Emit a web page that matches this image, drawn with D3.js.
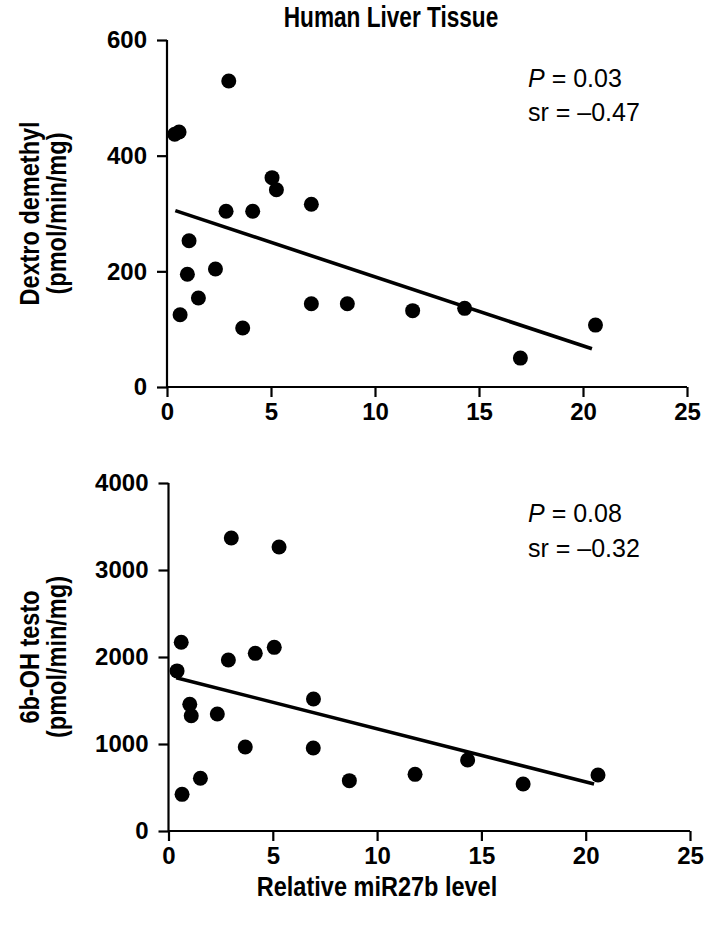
<!DOCTYPE html>
<html>
<head>
<meta charset="utf-8">
<script src="https://cdn.jsdelivr.net/npm/d3@7"></script>
<style>
  html, body { margin: 0; padding: 0; background: #fff; }
  svg text { font-family: "Liberation Sans", Arial, Helvetica, sans-serif; fill: #000; }
</style>
</head>
<body>
<svg id="chart" width="709" height="926"></svg>
<script>
// ---- Data ----
const chartTitle = "Human Liver Tissue";
const xAxisTitle = "Relative miR27b level";
const xTicks = [0, 5, 10, 15, 20, 25];

// Panel A: Dextro demethyl
const dextroX = [2.97, 0.37, 0.58, 5.05, 5.26, 2.84, 4.12, 6.94, 1.06, 0.98, 2.33, 1.51, 0.63, 3.64, 6.94, 8.67, 11.81, 14.31, 16.99, 20.6];
const dextroY = [529, 437, 441, 362, 341, 304, 304, 316, 253, 195, 204, 154, 125, 102, 144, 144, 132, 136, 50, 107];
const dextroFitX = [0.4, 20.43];
const dextroFitY = [305, 66];
const dextroYTicks = [0, 200, 400, 600];
const dextroYTitle = ["Dextro demethyl", "(pmol/min/mg)"];
const dextroStats = ["0.03", "–0.47"];

// Panel B: 6b-OH testo
const testoX = [3.01, 5.3, 0.61, 2.87, 4.16, 5.07, 0.41, 1.02, 1.09, 2.34, 6.95, 3.68, 6.94, 1.53, 0.65, 8.67, 11.82, 14.34, 17.0, 20.59];
const testoY = [3368, 3264, 2169, 1966, 2042, 2111, 1840, 1456, 1325, 1345, 1517, 966, 954, 606, 421, 579, 651, 816, 540, 644];
const testoFitX = [0.37, 20.4];
const testoFitY = [1762, 540];
const testoYTicks = [0, 1000, 2000, 3000, 4000];
const testoYTitle = ["6b-OH testo", "(pmol/min/mg)"];
const testoStats = ["0.08", "–0.32"];

// ---- Drawing ----
const svg = d3.select("#chart");

function condText(sel, x, y, rot, size, cond, anchor, txt) {
  return sel.append("text")
    .attr("transform", `translate(${x},${y})` + (rot ? ` rotate(${rot})` : "") + ` scale(${cond},1)`)
    .attr("text-anchor", anchor)
    .style("font-size", size + "px").style("font-weight", "bold")
    .text(txt);
}

condText(svg, 391, 27, 0, 29, 0.78, "middle", chartTitle);

function panel(cfg) {
  const x = d3.scaleLinear().domain([0, 25]).range([cfg.left, cfg.right]);
  const y = d3.scaleLinear().domain([0, d3.max(cfg.yTicks)]).range([cfg.bottom, cfg.top]);
  const g = svg.append("g");

  const xa = g.append("g").attr("transform", `translate(0,${cfg.bottom})`)
    .call(d3.axisBottom(x).tickValues(xTicks).tickSize(10).tickPadding(6).tickFormat(d3.format("d")));
  const ya = g.append("g").attr("transform", `translate(${cfg.left},0)`)
    .call(d3.axisLeft(y).tickValues(cfg.yTicks).tickSize(10).tickPadding(10).tickFormat(d3.format("d")));
  [xa, ya].forEach(a => {
    a.select(".domain").attr("stroke", "#000").attr("stroke-width", 2.2);
    a.selectAll(".tick line").attr("stroke", "#000").attr("stroke-width", 2.2);
    a.selectAll(".tick text").style("font-size", "24px").style("font-weight", "bold")
      .style("font-family", '"Liberation Sans", Arial, sans-serif').attr("fill", "#000");
  });
  xa.select(".domain").attr("d", `M${cfg.left},0H${cfg.right}`);
  ya.select(".domain").attr("d", `M0,${cfg.bottom}V${cfg.top}`);

  // regression line
  g.append("line")
    .attr("x1", x(cfg.fitX[0])).attr("y1", y(cfg.fitY[0]))
    .attr("x2", x(cfg.fitX[1])).attr("y2", y(cfg.fitY[1]))
    .attr("stroke", "#000").attr("stroke-width", 3.6);

  // points
  g.selectAll("circle.pt").data(cfg.xs.map((v, i) => [v, cfg.ys[i]]))
    .enter().append("circle").attr("class", "pt")
    .attr("cx", d => x(d[0])).attr("cy", d => y(d[1]))
    .attr("r", 7.5).attr("fill", "#000");

  // y title (two lines, rotated)
  const cy = (cfg.top + cfg.bottom) / 2;
  cfg.yTitle.forEach((t, i) => {
    condText(g, cfg.yTitleX[i], cy, -90, 28, 0.84, "middle", t);
  });

  // stats
  const p = g.append("text").attr("x", cfg.statX).attr("y", cfg.statY[0])
    .style("font-size", "25px");
  p.append("tspan").style("font-style", "italic").text("P");
  p.append("tspan").text(" = " + cfg.stats[0]);
  g.append("text").attr("x", cfg.statX).attr("y", cfg.statY[1])
    .style("font-size", "25px")
    .text("sr = " + cfg.stats[1]);
}

panel({
  left: 167, right: 687, top: 40, bottom: 387,
  xs: dextroX, ys: dextroY, fitX: dextroFitX, fitY: dextroFitY,
  yTicks: dextroYTicks, yTitle: dextroYTitle, yTitleX: [39, 66],
  stats: dextroStats, statX: 528, statY: [87, 121]
});

panel({
  left: 168.5, right: 690, top: 483, bottom: 831,
  xs: testoX, ys: testoY, fitX: testoFitX, fitY: testoFitY,
  yTicks: testoYTicks, yTitle: testoYTitle, yTitleX: [39, 66],
  stats: testoStats, statX: 528, statY: [522, 557]
});

condText(svg, 377, 896, 0, 28, 0.84, "middle", xAxisTitle);
</script>
</body>
</html>
